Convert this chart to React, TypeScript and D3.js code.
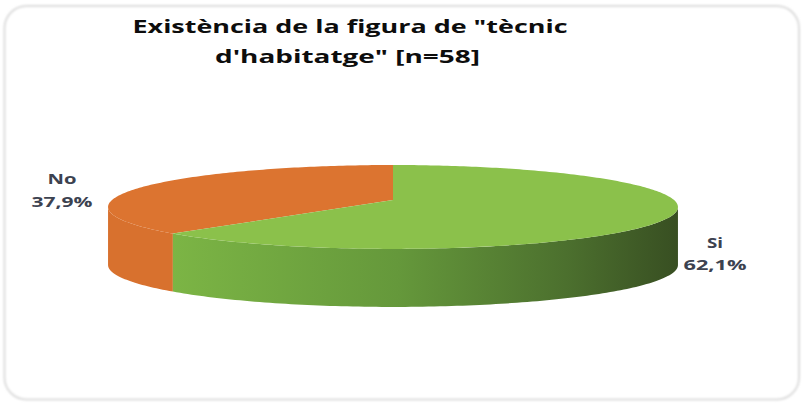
import React from "react";
import * as d3 from "d3";

const categories = ["Si", "No"];
const values = [62.1, 37.9];
const valueLabels = ["62,1%", "37,9%"];
const titleLines = ["Existència de la figura de \"tècnic", "d'habitatge\" [n=58]"];

const W = 802, H = 404;
const CX = 393, CY = 200, RX = 281, RY = 40.8, K = 0.166, DEPTH = 58;
const topColors = ["#8bc14b", "#dc7430"];
const sideColors = ["url(#greenSide)", "#d8712e"];

// layout for labels (text positions, widths)
const labelLayout = [
  { x: 715, y1: 248, y2: 270, w1: 16, w2: 63 },
  { x: 62, y1: 184, y2: 207, w1: 29, w2: 61 },
];

function proj(a: number, h: number): [number, number] {
  const z = Math.cos(a);
  const s = 1 / (1 + K * z);
  return [CX + RX * Math.sin(a) * s, CY - RY * z * s + h * DEPTH];
}

function samples(a0: number, a1: number): number[] {
  const n = Math.max(8, Math.ceil(((a1 - a0) * 180) / Math.PI));
  return d3.range(n + 1).map((i) => a0 + ((a1 - a0) * i) / n);
}

const line = d3.line<[number, number]>().x((d) => d[0]).y((d) => d[1]);

// silhouette extremes of the projected rim: the front-facing wall lies between them
const A_RIGHT = Math.acos(-K);
const A_LEFT = 2 * Math.PI - Math.acos(-K);

export default function App() {
  const pie = d3.pie<number>().sort(null).startAngle(0).endAngle(2 * Math.PI);
  const arcs = pie(values);

  const topPath = (a0: number, a1: number) => {
    const pts: [number, number][] = [[CX, CY], ...samples(a0, a1).map((a) => proj(a, 0))];
    return line(pts) + "Z";
  };
  const sidePath = (a0: number, a1: number) => {
    const b0 = Math.max(a0, A_RIGHT);
    const b1 = Math.min(a1, A_LEFT);
    if (b1 <= b0) return null;
    const s = samples(b0, b1);
    const pts: [number, number][] = [
      ...s.map((a) => proj(a, 0)),
      ...s.slice().reverse().map((a) => proj(a, 1)),
    ];
    return line(pts) + "Z";
  };

  // draw order: No (back-left) first, then Si
  const order = [1, 0];

  return (
    <svg
      width={W}
      height={H}
      style={{ position: "absolute", left: 0, top: 0, display: "block" }}
      fontFamily="'Open Sans', 'DejaVu Sans', sans-serif"
    >
      <defs>
        <linearGradient id="greenSide" gradientUnits="userSpaceOnUse" x1={170} y1={0} x2={677} y2={0}>
          <stop offset="0" stopColor="#7cb545" />
          <stop offset="0.45" stopColor="#65983b" />
          <stop offset="0.78" stopColor="#4c702e" />
          <stop offset="1" stopColor="#384f22" />
        </linearGradient>
        <filter id="blur1" x="-5%" y="-5%" width="110%" height="110%">
          <feGaussianBlur stdDeviation="0.8" />
        </filter>
      </defs>
      <rect x={0} y={0} width={W} height={H} fill="#ffffff" />
      <rect
        x={4.5}
        y={6}
        width={794.5}
        height={393.5}
        rx={22}
        ry={22}
        fill="#ffffff"
        stroke="#dcdcdc"
        strokeWidth={2}
        filter="url(#blur1)"
      />
      {order.map((i) => {
        const a = arcs[i];
        const sp = sidePath(a.startAngle, a.endAngle);
        return (
          <g key={categories[i]}>
            {sp && <path d={sp} fill={sideColors[i]} />}
            <path d={topPath(a.startAngle, a.endAngle)} fill={topColors[i]} />
          </g>
        );
      })}
      <g fontWeight="bold" fill="#0d0d0d" fontSize={18} textAnchor="middle">
        <text x={350} y={33} textLength={435} lengthAdjust="spacingAndGlyphs">
          {titleLines[0]}
        </text>
        <text x={347.5} y={63} textLength={265} lengthAdjust="spacingAndGlyphs">
          {titleLines[1]}
        </text>
      </g>
      <g fontWeight="bold" fill="#3c4250" fontSize={15} textAnchor="middle">
        {categories.map((c, i) => {
          const L = labelLayout[i];
          return (
            <g key={c}>
              <text x={L.x} y={L.y1} textLength={L.w1} lengthAdjust="spacingAndGlyphs">
                {c}
              </text>
              <text x={L.x} y={L.y2} textLength={L.w2} lengthAdjust="spacingAndGlyphs">
                {valueLabels[i]}
              </text>
            </g>
          );
        })}
      </g>
    </svg>
  );
}
